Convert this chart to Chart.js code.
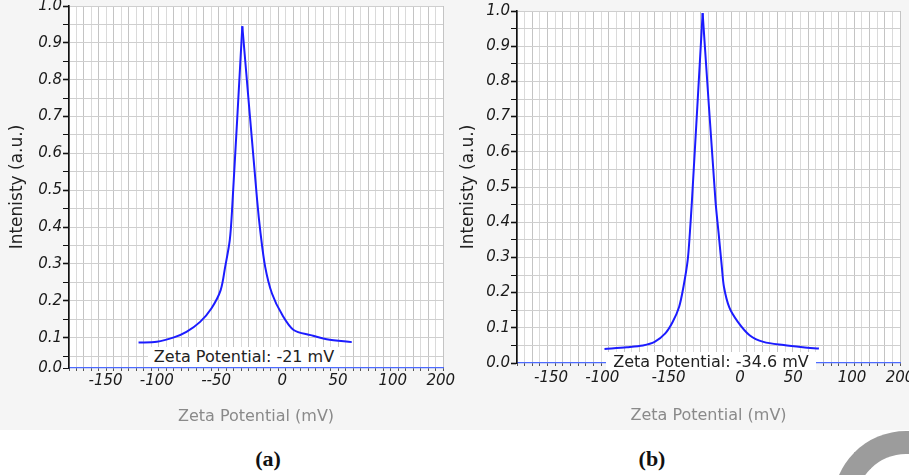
<!DOCTYPE html>
<html lang="en">
  <head>
    <meta charset="UTF-8" />
    <title>Zeta Potential</title>
    <script src="https://cdn.jsdelivr.net/npm/chart.js"></script>
    <style>
      body {
        margin: 0;
        width: 909px;
        height: 475px;
        overflow: hidden;
        position: relative;
        background: #fff;
        font-family: "DejaVu Sans", sans-serif;
      }
      .panel-bg {
        position: absolute;
        left: 0;
        top: 0;
        width: 909px;
        height: 430px;
        background: #f5f5f5;
      }
      .chart-box {
        position: absolute;
        top: -20px;
        height: 450px;
      }
      #boxA { left: 0; width: 455px; }
      #boxB { left: 455px; width: 454px; }
      .zeta-note {
        position: absolute;
        background: #fff;
        color: #222;
        font-size: 16px;
        line-height: 20px;
        text-align: center;
        white-space: nowrap;
        z-index: 2;
      }
      #noteA { left: 148px; top: 347px; width: 192px; height: 20px; }
      #noteB { left: 606px; top: 352px; width: 210px; height: 18px; line-height: 20px; }
      .caption {
        position: absolute;
        top: 446px;
        transform: translateX(-50%);
        font: bold 22px "Liberation Serif", serif;
        color: #111;
      }
      .logo {
        position: absolute;
        left: 833px;
        top: 431px;
        width: 100px;
        height: 100px;
        border: 23px solid #9c9c9c;
        border-right-color: transparent;
        border-bottom-color: transparent;
        border-radius: 50%;
      }
    </style>
  </head>
  <body>
    <div class="panel-bg"></div>

    <div class="chart-box" id="boxA"><canvas id="chartA"></canvas></div>
    <div class="chart-box" id="boxB"><canvas id="chartB"></canvas></div>

    <div class="zeta-note" id="noteA">Zeta Potential: -21 mV</div>
    <div class="zeta-note" id="noteB">Zeta Potential: -34.6 mV</div>

    <div class="caption" style="left: 268px">(a)</div>
    <div class="caption" style="left: 652px">(b)</div>
    <div class="logo"></div>

    <script>
      // panel (a) curve
      const zetaA = [-126, -110, -95, -84, -72, -62, -54, -50, -46, -44, -35, -22, -19, -15, -9, 0, 10, 25, 39, 61];
      const intensityA = [0.087, 0.089, 0.101, 0.116, 0.143, 0.18, 0.229, 0.293, 0.365, 0.446, 0.945, 0.473, 0.383, 0.293, 0.22, 0.162, 0.121, 0.107, 0.096, 0.088];
      const tickPosA = [-155, -110, -58, 0, 49, 97, 139];
      const tickLabelsA = ["-150", "-100", "--50", "0", "50", "100", "200"];

      // panel (b) curve
      const zetaB = [-127, -106, -91, -80, -70, -63, -57, -53, -49, -47, -45, -35, -23, -20, -17, -15, -10, -2, 9, 22, 41, 59, 74];
      const intensityB = [0.04, 0.045, 0.05, 0.06, 0.084, 0.117, 0.16, 0.216, 0.292, 0.368, 0.462, 0.994, 0.462, 0.368, 0.273, 0.216, 0.158, 0.117, 0.079, 0.06, 0.051, 0.045, 0.041];
      const tickPosB = [-177, -129, -67, 0, 50, 105, 150];
      const tickLabelsB = ["-150", "-100", "-150", "0", "50", "100", "200"];

      const tickFont = { family: "DejaVu Sans", size: 15, style: "italic" };

      // white plot area on the grey page
      const plotBg = {
        id: "plotBg",
        beforeDraw(chart) {
          const { ctx, chartArea: a } = chart;
          ctx.save();
          ctx.fillStyle = "#fff";
          ctx.fillRect(a.left, a.top, a.right - a.left, a.bottom - a.top);
          ctx.restore();
        },
      };

      // the curve is split at its maximum so the smoothing keeps a sharp peak
      function curveSets(xs, ys) {
        const pts = xs.map((v, i) => ({ x: v, y: ys[i] }));
        const top = ys.indexOf(Math.max(...ys));
        const style = { borderColor: "#1c1cff", borderWidth: 2, pointRadius: 0, tension: 0.3, fill: false };
        return [
          { ...style, data: pts.slice(0, top + 1) },
          { ...style, data: pts.slice(top) },
        ];
      }

      function zetaChart(id, cfg) {
        const gridStep = (cfg.xMax - cfg.xMin) / 50;
        return new Chart(document.getElementById(id), {
          type: "line",
          data: { datasets: curveSets(cfg.x, cfg.y) },
          options: {
            responsive: true,
            maintainAspectRatio: false,
            animation: false,
            layout: { padding: { left: 0, right: cfg.padRight, top: cfg.padTop, bottom: 0 } },
            plugins: { legend: { display: false }, tooltip: { enabled: false } },
            scales: {
              x: {
                type: "linear",
                position: "bottom",
                weight: 0,
                min: cfg.xMin,
                max: cfg.xMax,
                afterBuildTicks: (s) => {
                  const t = [];
                  for (let k = 0; k <= 50; k++) t.push({ value: cfg.xMin + k * gridStep });
                  s.ticks = t;
                },
                afterFit: (s) => {
                  s.height = 4;
                  s.paddingLeft = 0;
                  s.paddingRight = 0;
                },
                ticks: { display: false },
                grid: {
                  color: (c) => (c.index % 2 ? "#dadada" : "#c4c4c4"),
                  tickLength: 3,
                  tickColor: "#555",
                },
                border: { color: "#4d6bff", width: 1.2 },
              },
              x2: {
                type: "linear",
                position: "bottom",
                weight: 1,
                min: cfg.xMin,
                max: cfg.xMax,
                afterBuildTicks: (s) => {
                  s.ticks = cfg.tickPos.map((v) => ({ value: v }));
                },
                afterFit: (s) => {
                  s.height = cfg.x2Height;
                  s.paddingLeft = 0;
                  s.paddingRight = 0;
                },
                grid: { display: false, drawTicks: false },
                border: { display: false },
                ticks: {
                  autoSkip: false,
                  maxRotation: 0,
                  padding: cfg.tickPad,
                  color: "#1a1a1a",
                  font: tickFont,
                  callback: (v, i) => cfg.tickLabels[i],
                },
                title: {
                  display: true,
                  text: "Zeta Potential (mV)",
                  color: "#8a8a8a",
                  font: { family: "DejaVu Sans", size: 16 },
                  padding: { top: 0, bottom: cfg.titlePad },
                },
              },
              y: {
                min: cfg.yMin,
                max: 1,
                afterBuildTicks: (s) => {
                  const t = [{ value: cfg.yMin }];
                  for (let k = 1; k <= 20; k++) {
                    const v = k * 0.05;
                    if (v > cfg.yMin + 1e-6) t.push({ value: v });
                  }
                  s.ticks = t;
                },
                afterFit: (s) => {
                  s.width = cfg.yWidth;
                  s.paddingTop = 0;
                  s.paddingBottom = 0;
                },
                ticks: {
                  autoSkip: false,
                  padding: 1,
                  color: "#1a1a1a",
                  font: tickFont,
                  callback: (v, i) => {
                    if (i === 0) return "0.0";
                    return Math.abs(v * 10 - Math.round(v * 10)) < 1e-6 ? v.toFixed(1) : "";
                  },
                },
                grid: {
                  color: (c) => (c.index === 0 ? "rgba(0,0,0,0)" : "#cfcfcf"),
                  tickLength: 6,
                  tickColor: "#111",
                  tickWidth: (c) => (c.tick && Math.abs(c.tick.value * 10 - Math.round(c.tick.value * 10)) < 1e-6 ? 1.6 : 1),
                },
                border: { color: "#111", width: 1.6 },
                title: {
                  display: true,
                  text: "Intenisty (a.u.)",
                  color: "#222",
                  font: { family: "DejaVu Sans", size: 17 },
                  padding: { top: cfg.yTitlePad, bottom: 0 },
                },
              },
            },
          },
          plugins: [plotBg],
        });
      }

      zetaChart("chartA", {
        x: zetaA, y: intensityA, tickPos: tickPosA, tickLabels: tickLabelsA,
        xMin: -187, xMax: 141, yMin: 0.0178,
        padTop: 26, padRight: 12, yWidth: 69, x2Height: 58,
        tickPad: 0, titlePad: 4, yTitlePad: 7,
      });

      zetaChart("chartB", {
        x: zetaB, y: intensityB, tickPos: tickPosB, tickLabels: tickLabelsB,
        xMin: -209, xMax: 150, yMin: 0,
        padTop: 31, padRight: 9, yWidth: 62, x2Height: 63,
        tickPad: 2, titlePad: 5, yTitlePad: 3,
      });
    </script>
  </body>
</html>
